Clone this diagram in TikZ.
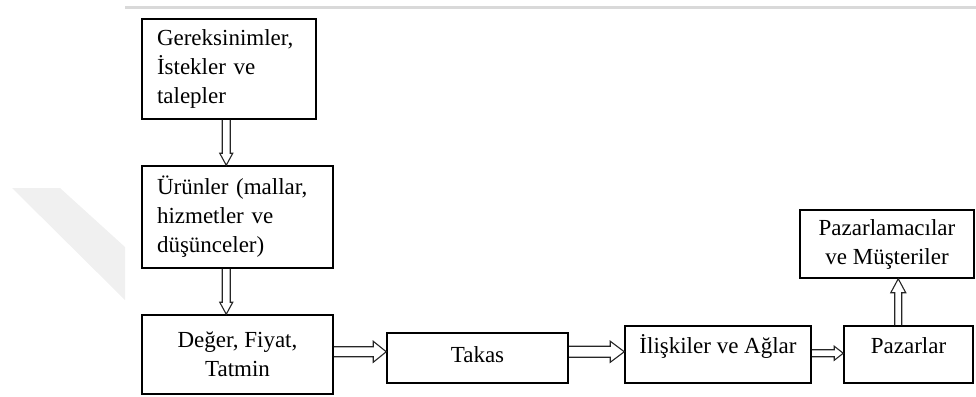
\documentclass[tikz,border=0pt]{standalone}
\usepackage{fontspec}
\setmainfont{Liberation Serif}
\usetikzlibrary{calc}
\tikzset{
  box/.style={draw=black, line width=1.5pt, rectangle, inner sep=0pt, font=\fontsize{23}{29}\selectfont, text=black},
  blk/.style={draw=black!85, line width=1.1pt, line join=miter},
}
\newcommand{\blkdown}[5]{\draw[blk] ($(#1)+(-#3,0)$) -- ($(#2)+(-#3,-#5)$) -- ($(#2)+(-#4,-#5)$) -- (#2) -- ($(#2)+(#4,-#5)$) -- ($(#2)+(#3,-#5)$) -- ($(#1)+(#3,0)$);}
\newcommand{\blkright}[5]{\draw[blk] ($(#1)+(0,-#3)$) -- ($(#2)+(-#5,-#3)$) -- ($(#2)+(-#5,-#4)$) -- (#2) -- ($(#2)+(-#5,#4)$) -- ($(#2)+(-#5,#3)$) -- ($(#1)+(0,#3)$);}
\newcommand{\blkup}[5]{\draw[blk] ($(#1)+(-#3,0)$) -- ($(#2)+(-#3,#5)$) -- ($(#2)+(-#4,#5)$) -- (#2) -- ($(#2)+(#4,#5)$) -- ($(#2)+(#3,#5)$) -- ($(#1)+(#3,0)$);}
\begin{document}
\begin{tikzpicture}[x=1pt,y=-1pt]
\useasboundingbox (0,0) rectangle (976,396);
% watermark and top rule
\fill[black!6] (12,188) -- (60,188) -- (125,247) -- (125,300) -- cycle;
\draw[black!15, line width=3pt] (125,7.5) -- (976,7.5);
% nodes
\node[box, minimum width=174pt, minimum height=100pt, text width=144pt, inner xsep=15pt, align=left] (n1) at (229,69) {Gereksinimler,\\İstekler ve\\talepler};
\node[box, minimum width=191pt, minimum height=102pt, text width=161pt, inner xsep=15pt, align=left] (n2) at (237.5,217) {Ürünler (mallar,\\hizmetler ve\\düşünceler)};
\node[box, minimum width=191pt, minimum height=79pt, align=center] (n3) at (237.5,354.5) {Değer, Fiyat,\\Tatmin};
\node[box, minimum width=181pt, text height=29pt, text depth=21pt] (n4) at (477.5,358) {Takas};
\node[box, minimum width=186pt, text height=27pt, text depth=30pt] (n5) at (718,354.5) {İlişkiler ve Ağlar};
\node[box, minimum width=129pt, text height=27pt, text depth=30pt] (n6) at (908.5,354.5) {Pazarlar};
\node[box, minimum width=174pt, minimum height=68pt, align=center] (n7) at (887,244) {Pazarlamacılar\\ve Müşteriler};
% arrow anchor coordinates
\coordinate (a1s) at ($(n1.south west)+(85,0)$);
\coordinate (a1e) at (a1s |- n2.north);
\coordinate (a2s) at ($(n2.south west)+(85,0)$);
\coordinate (a2e) at (a2s |- n3.north);
\coordinate (a3s) at ($(n3.north east)+(0,37.5)$);
\coordinate (a3e) at (a3s -| n4.west);
\coordinate (a4s) at ($(n4.north east)+(0,19.5)$);
\coordinate (a4e) at (a4s -| n5.west);
\coordinate (a5s) at ($(n5.north east)+(0,28)$);
\coordinate (a5e) at (a5s -| n6.west);
\coordinate (a6s) at ($(n6.north west)+(55,0)$);
\coordinate (a6e) at (a6s |- n7.south);
% arrows
\blkdown{a1s}{a1e}{4}{6.5}{12}
\blkdown{a2s}{a2e}{4}{6.5}{12}
\blkright{a3s}{a3e}{5}{10.5}{13}
\blkright{a4s}{a4e}{5.5}{10.5}{14}
\blkright{a5s}{a5e}{3.5}{7}{9}
\blkup{a6s}{a6e}{3.5}{7.5}{14}
\end{tikzpicture}
\end{document}
